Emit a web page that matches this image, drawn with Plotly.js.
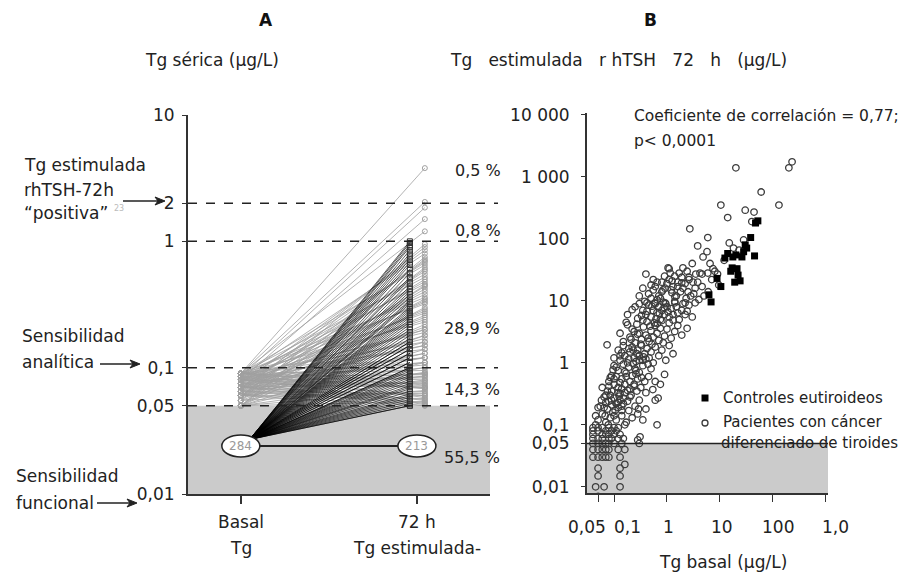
<!DOCTYPE html>
<html><head><meta charset="utf-8">
<script src="https://cdn.plot.ly/plotly-3.0.1.min.js"></script>
<style>html,body{margin:0;padding:0;background:#fff}#chart{width:903px;height:579px}</style>
</head><body><div id="chart"></div>
<script>
// ---------------- Panel A data ----------------
const catLabelsTop = ["Basal", "72 h"];
const catLabelsBottom = ["Tg", "Tg estimulada-"];
const aTickVals = [0.01, 0.05, 0.1, 1, 2, 10];
const aTickText = ["0,01", "0,05", "0,1", "1", "2", "10"];
const thresholds = [2, 1, 0.1, 0.05];
const undetectableLevel = 0.024;   // plotted level of undetectable Tg
const blackOrigin = 0.027;         // start of the lines from undetectable basal Tg
const nUndetBasal = "284", nUndetStim = "213";
const pctLabels = ["0,5 %", "0,8 %", "28,9 %", "14,3 %", "55,5 %"];

// Detectable basal Tg (0.05-0.09) and the stimulated value of the same patient
const greyBasal = [
 0.09,0.09,0.085,0.08,0.09,0.055,0.065,0.075,0.085,0.05,
 0.06,0.07,0.08,0.09,0.05,0.06,0.07,0.08,0.09,0.065,
 0.075,0.085,0.05,0.055,0.06,0.07,0.08,0.09,0.06,0.07,
 0.08,0.09,0.05,0.065,0.075,0.085,0.06,0.07,0.08,0.09,
 0.05,0.06,0.07,0.08,0.085,0.055,0.065,0.075,0.09,0.06,
 0.07,0.08,0.09,0.05,0.06,0.07,0.08,0.09,0.065,0.075,
 0.085,0.05,0.06,0.07,0.08,0.09,0.055,0.065,0.075,0.085,
 0.06,0.07,0.08,0.09,0.05,0.06,0.07,0.08,0.09,0.07,
 0.075,0.08,0.085,0.09,0.05,0.055,0.06,0.065,0.07,0.08,
 0.09,0.06,0.07,0.08,0.05,0.065,0.075,0.085,0.06,0.07];
const greyStim = [
 3.8,2.05,1.85,1.5,1.2,
 0.95,0.9,0.85,0.8,0.75,0.72,0.7,0.68,0.65,0.62,
 0.6,0.58,0.55,0.52,0.5,0.48,0.46,0.45,0.44,0.42,
 0.4,0.38,0.36,0.35,0.34,0.33,0.32,0.3,0.29,0.28,
 0.27,0.26,0.25,0.24,0.23,0.22,0.21,0.2,0.2,0.19,
 0.18,0.18,0.17,0.16,0.16,0.15,0.15,0.14,0.14,0.13,
 0.13,0.12,0.12,0.12,0.11,0.11,0.11,0.1,0.1,0.105,
 0.095,0.092,0.09,0.09,0.088,0.086,0.085,0.083,0.08,0.08,
 0.078,0.076,0.075,0.073,0.072,0.07,0.07,0.069,0.068,0.066,
 0.065,0.063,0.062,0.06,0.06,0.058,0.057,0.056,0.055,0.054,
 0.053,0.052,0.051,0.05,0.05];
// Undetectable basal Tg that became detectable after rhTSH
const blackStim = [
 1.0,0.97,0.93,0.9,0.85,0.8,0.76,0.72,0.68,0.65,
 0.6,0.56,0.52,0.5,0.47,0.44,0.42,0.4,0.38,0.36,
 0.34,0.33,0.32,0.3,0.29,0.28,0.27,0.26,0.25,0.24,
 0.23,0.22,0.21,0.2,0.19,0.18,0.17,0.16,0.16,0.15,
 0.15,0.14,0.14,0.13,0.13,0.12,0.12,0.11,0.11,0.1,0.1,
 0.097,0.094,0.09,0.087,0.084,0.081,0.078,0.075,0.072,0.07,
 0.068,0.065,0.062,0.06,0.058,0.056,0.054,0.052,0.05,0.05];

// ---------------- Panel B data ----------------
const seriesNames = ["Controles eutiroideos", "Pacientes con cáncer", "diferenciado de tiroides"];
const bXTickVals = [0.05, 0.1, 1, 10, 100, 1000];
const bXTickText = ["0,05", "0,1", "1", "10", "100", "1,0"];
const bYTickVals = [0.01, 0.05, 0.1, 1, 10, 100, 1000, 10000];
const bYTickText = ["0,01", "0,05", "0,1", "1", "10", "100", "1 000", "10 000"];

const ctrlX = [52,47,38,32,28,26,45,17.5,12.4,14,20,
               17,21,22,24,19,8.8,10.4,6.2,6.8,30,16];
const ctrlY = [195,180,105,71,62,51,53,51,49,58,55,
               34,33,26,21,20,23,17,12.5,9.6,80,30];

const patX = [
 20,230,200,60,130,10.4,30,44,14,40,
 2.7,5.9,3.8,5.7,4.8,15,23,28,0.4,1.1,
 2.0,3.5,4.6,5.9,7.4,4.6,2.2,3.4,0.92,1.24,
 1.41,0.42,0.59,0.92,1.41,2.2,3.4,8,9,3,
 6.5,2.6,1.6,1.8,2.8,0.7,0.55,5,4,1.1,
 1.4,1.05,1.9,3.1,4.2,0.84,1.3,0.65,2.5,0.5,
 18,12,7,9.5,6,3.8,2.4,1.7,0.8,0.3,
 0.45,0.6,0.75,1.0,1.2,1.5,2.0,2.6,3.2,0.35,
 0.55,0.9,1.15,1.6,2.3,0.8,0.5,1.9,1.25,0.65,
 0.18,0.25,0.3,0.35,0.4,0.45,0.5,0.55,0.6,0.65,
 0.7,0.75,0.8,0.85,0.9,1.0,1.1,1.2,1.3,1.5,
 1.7,1.9,2.2,2.6,3.0,0.28,0.38,0.62,0.95,1.4,
 2.0,0.22,0.42,0.72,1.05,0.52,0.33,0.88,1.6,2.4,
 0.18,0.13,0.15,0.17,0.2,0.22,0.25,0.27,0.3,0.33,
 0.36,0.4,0.42,0.46,0.5,0.55,0.6,0.65,0.7,0.75,
 0.8,0.9,1.0,1.1,1.2,1.4,1.6,1.9,2.4,0.24,
 0.35,0.52,0.58,0.85,0.32,0.48,1.3,0.28,0.44,0.66,
 0.074,0.1,0.12,0.13,0.15,0.16,0.18,0.2,0.22,0.24,
 0.26,0.28,0.3,0.33,0.35,0.38,0.42,0.46,0.5,0.55,
 0.6,0.7,0.8,0.95,1.1,1.3,0.19,0.27,0.14,0.4,
 0.096,0.08,0.09,0.1,0.11,0.12,0.12,0.13,0.14,0.15,
 0.16,0.17,0.18,0.19,0.2,0.21,0.22,0.24,0.25,0.27,
 0.28,0.3,0.32,0.35,0.38,0.4,0.45,0.5,0.54,0.6,
 0.75,0.9,0.14,0.23,0.33,0.1,0.09,0.16,0.68,0.26,
 0.07,0.08,0.09,0.1,0.11,0.12,0.13,0.15,0.17,0.2,
 0.11,0.13,0.16,0.19,0.23,0.26,0.3,0.36,0.44,0.21,
 0.06,0.065,0.075,0.085,0.1,0.12,0.14,0.18,0.24,0.29,
 0.05,0.055,0.06,0.065,0.07,0.075,0.08,0.085,0.09,0.095,
 0.1,0.11,0.12,0.13,0.14,0.15,0.17,0.19,0.2,0.22,
 0.25,0.28,0.3,0.35,0.6,0.65,0.4,0.058,0.068,0.078,
 0.105,0.125,0.16,0.05,0.045,0.045,0.07,0.085,0.11,0.14,
 0.04,0.05,0.06,0.08,0.1,0.12,0.04,0.05,0.07,0.09,
 0.11,0.04,0.06,0.07,0.08,0.1,0.13,0.04,0.05,0.06,
 0.08,0.09,0.12,0.15,0.04,0.05,0.06,0.07,0.08,0.1,
 0.14,0.3,0.04,0.05,0.06,0.07,0.08,0.12,0.16,0.04,
 0.05,0.06,0.07,0.08,0.13,0.05,0.13,0.05,0.13,0.045,
 0.065,0.13,0.05,0.31,0.28,0.16];
const patY = [
 1400,1750,1400,570,350,350,290,270,220,190,
 145,105,77,62,51,86,66,96,27,33,
 34,27,27,28,33,17,19,16,16,13.5,
 11.6,9.3,9.3,9.3,9.3,9.3,9.3,30,27,40,
 40,22,20,14,12,12,15,12,10.5,22,
 25,34,19.5,20,28,15,17,10.4,14,18,
 71,45,22,18,14,20,30,28,20,12,
 13,17,11,19,15,12,16,24,13,16,
 22,25,28,17,11,14,11,24,21,20,
 6,8,9,7,6,8.5,5.5,7,9,6.5,
 8,5,7,9.5,6,8,5.5,7.5,6,8,
 5,7,6,8.5,5.5,5.2,9.8,5.1,9,9.8,
 9,7.2,6.8,6.2,6.6,8.2,5.8,7.8,6.4,6.8,
 4.1,3,2.2,4.5,2.6,3.5,2.1,4.2,3,2.4,
 3.8,2.8,4.6,2.2,3.3,2.6,4,3,2.3,3.6,
 4.8,2.7,3.5,4.4,2.5,3.2,4,2.8,3.6,3.2,
 4.9,2.0,4.4,2.1,2.0,3.9,4.9,2.9,2.5,4.3,
 1.95,1.2,1.6,1.1,1.9,1.3,1.0,1.5,1.8,1.2,
 1.05,1.6,1.3,1.9,1.1,1.4,1.7,1.2,1.5,1.0,
 1.8,1.3,1.6,1.1,1.9,1.4,1.7,1.4,1.45,1.15,
 0.77,0.5,0.35,0.9,0.6,0.4,0.75,0.32,0.55,0.95,
 0.45,0.68,0.36,0.85,0.5,0.3,0.62,0.42,0.8,0.35,
 0.55,0.7,0.4,0.9,0.5,0.33,0.6,0.8,0.37,0.5,
 0.45,0.65,0.38,0.97,0.58,0.45,0.62,0.33,0.27,0.66,
 0.3,0.42,0.25,0.55,0.22,0.33,0.48,0.27,0.6,0.38,
 0.85,1.3,0.72,1.15,1.6,0.75,1.1,1.25,0.95,2.4,
 0.4,0.19,0.35,0.58,0.14,0.23,0.2,0.24,0.45,0.18,
 0.12,0.2,0.15,0.28,0.11,0.18,0.24,0.13,0.21,0.16,
 0.27,0.12,0.19,0.25,0.14,0.22,0.11,0.17,0.28,0.13,
 0.2,0.15,0.25,0.12,0.25,0.1,0.18,0.25,0.14,0.1,
 0.17,0.29,0.1,0.19,0.1,0.14,0.23,0.3,0.22,0.17,
 0.09,0.09,0.09,0.09,0.09,0.09,0.08,0.08,0.08,0.08,
 0.08,0.07,0.07,0.07,0.07,0.07,0.07,0.06,0.06,0.06,
 0.06,0.06,0.06,0.06,0.05,0.05,0.05,0.05,0.05,0.05,
 0.05,0.05,0.04,0.04,0.04,0.04,0.04,0.04,0.04,0.03,
 0.03,0.03,0.03,0.03,0.03,0.02,0.02,0.015,0.015,0.01,
 0.01,0.01,0.007,0.064,0.057,0.023];

// ---------------- build ----------------
const W = 903, H = 579;
const px = x => x / W, py = y => 1 - y / H;
const FONT = 'DejaVu Sans';
const XA_GREY = 1.045, XA_BLACK = 0.96, XA_ORIGIN = 0.05;

const xDomA = [px(188), px(490)], xRangeA = [-0.30, 1.415];
const yDomA = [py(494), py(115)], yRangeA = [-2, 1];
const xDomB = [px(587), px(828)], xRangeB = [-1.51, 3.04];
const yDomB = [py(493), py(113)], yRangeB = [-2.1, 4.03];
const aPX = v => xDomA[0] + (v - xRangeA[0]) / (xRangeA[1] - xRangeA[0]) * (xDomA[1] - xDomA[0]);
const aPY = v => yDomA[0] + (Math.log10(v) - yRangeA[0]) / (yRangeA[1] - yRangeA[0]) * (yDomA[1] - yDomA[0]);

const gLX = [], gLY = [];
greyBasal.forEach((b, i) => { gLX.push(0, XA_GREY, null); gLY.push(b, greyStim[i], null); });
const bLX = [], bLY = [];
blackStim.forEach(s => { bLX.push(XA_ORIGIN, XA_BLACK, null); bLY.push(blackOrigin, s, null); });

const traces = [
  {x: gLX, y: gLY, mode: 'lines', line: {color: '#a0a0a0', width: 0.8}, hoverinfo: 'skip'},
  {x: greyBasal.map(() => 0), y: greyBasal, mode: 'markers', marker: {symbol: 'circle-open', size: 5, color: '#a0a0a0', line: {width: 1}}},
  {x: greyStim.map(() => XA_GREY), y: greyStim, mode: 'markers', marker: {symbol: 'circle-open', size: 5, color: '#a0a0a0', line: {width: 1}}},
  {x: bLX, y: bLY, mode: 'lines', line: {color: '#000', width: 0.65}, hoverinfo: 'skip'},
  {x: blackStim.map(() => XA_BLACK), y: blackStim, mode: 'markers', marker: {symbol: 'square-open', size: 5, color: '#333', line: {width: 1}}},
  {x: [0, 1], y: [undetectableLevel, undetectableLevel], mode: 'lines', line: {color: '#222', width: 2}},
  {x: patX, y: patY, xaxis: 'x2', yaxis: 'y2', mode: 'markers', name: seriesNames[1] + ' ' + seriesNames[2],
   marker: {symbol: 'circle-open', size: 6.5, color: '#3c3c3c', line: {width: 1.3}}},
  {x: ctrlX, y: ctrlY, xaxis: 'x2', yaxis: 'y2', mode: 'markers', name: seriesNames[0],
   marker: {symbol: 'square', size: 7, color: '#000'}}
];

const shapes = [
  {type: 'rect', xref: 'x domain', yref: 'y', x0: 0, x1: 1, y0: 0.01, y1: 0.05, fillcolor: '#cbcbcb', line: {width: 0}, layer: 'below'},
  {type: 'rect', xref: 'x2 domain', yref: 'y2', x0: 0, x1: 1, y0: Math.pow(10, yRangeB[0]), y1: 0.05, fillcolor: '#cbcbcb', line: {width: 0}, layer: 'below'},
  {type: 'line', xref: 'x2 domain', yref: 'y2', x0: 0, x1: 1, y0: 0.05, y1: 0.05, line: {color: '#222', width: 1.5}}
];
thresholds.forEach(t => shapes.push({type: 'line', xref: 'paper', yref: 'y', x0: px(188), x1: px(498), y0: t, y1: t,
  line: {color: '#222', width: 1.5, dash: 'dash'}}));
[0, 1].forEach(cx => {
  const cxp = aPX(cx), cyp = aPY(undetectableLevel);
  shapes.push({type: 'circle', xref: 'paper', yref: 'paper', x0: cxp - 19 / W, x1: cxp + 19 / W, y0: cyp - 11 / H, y1: cyp + 11 / H,
    fillcolor: '#fff', line: {color: '#222', width: 1.5}});
});
// arrows (line + filled head) on the left of panel A
const arrow = (x0, x1, y) => {
  shapes.push({type: 'line', xref: 'paper', yref: 'paper', x0: px(x0), x1: px(x1 - 6), y0: py(y), y1: py(y), line: {color: '#222', width: 1.5}});
  shapes.push({type: 'path', xref: 'paper', yref: 'paper',
    path: `M ${px(x1)} ${py(y)} L ${px(x1 - 10)} ${py(y - 4)} L ${px(x1 - 7)} ${py(y)} L ${px(x1 - 10)} ${py(y + 4)} Z`,
    fillcolor: '#222', line: {color: '#222', width: 1}});
};
arrow(123, 165, 201);
arrow(100, 140, 364);
arrow(97, 137, 503);
// manual legend symbols of panel B
shapes.push({type: 'rect', xref: 'paper', yref: 'paper', x0: px(701.5), x1: px(708.5), y0: py(401.5), y1: py(394.5), fillcolor: '#000', line: {width: 0}});
shapes.push({type: 'circle', xref: 'paper', yref: 'paper', x0: px(702), x1: px(708), y0: py(426), y1: py(420), fillcolor: 'rgba(0,0,0,0)', line: {color: '#3c3c3c', width: 1.3}});

const ann = [];
const txt = (x, y, text, opts = {}) => ann.push(Object.assign({xref: 'paper', yref: 'paper', x: px(x), y: py(y), text, showarrow: false,
  xanchor: 'left', yanchor: 'middle', font: {family: FONT, size: 17, color: '#222'}}, opts));

const S3 = '\u00a0\u00a0\u00a0';
txt(266, 20, '<b>A</b>', {xanchor: 'center', font: {family: FONT, size: 17, color: '#111'}});
txt(212, 60, 'Tg sérica (μg/L)', {xanchor: 'center'});
txt(650, 20, '<b>B</b>', {xanchor: 'center', font: {family: FONT, size: 17, color: '#111'}});
txt(618, 60, 'Tg' + S3 + 'estimulada' + S3 + 'r hTSH' + S3 + '72' + S3 + 'h' + S3 + '(μg/L)', {xanchor: 'center'});
txt(723, 562, 'Tg basal (μg/L)', {xanchor: 'center'});
txt(632, 116, 'Coeficiente de correlación = 0,77;', {font: {family: FONT, size: 15.5, color: '#222'}});
txt(632, 141, 'p< 0,0001', {font: {family: FONT, size: 15.5, color: '#222'}});
txt(721, 398, seriesNames[0], {font: {family: FONT, size: 15, color: '#222'}});
txt(721, 422, seriesNames[1], {font: {family: FONT, size: 15, color: '#222'}});
txt(719, 443, seriesNames[2], {font: {family: FONT, size: 15, color: '#222'}});

txt(22, 165, 'Tg estimulada');
txt(22, 190, 'rhTSH-72h');
txt(22, 213, '“positiva”');
txt(112, 208, '23', {font: {family: FONT, size: 8, color: '#bbb'}});
txt(20, 336, 'Sensibilidad');
txt(20, 362, 'analítica');
txt(14, 476, 'Sensibilidad');
txt(14, 503, 'funcional');

const pctY = [171, 230, 328, 390, 457];
const pctX = [453, 453, 442, 442, 442];
pctLabels.forEach((p, i) => txt(pctX[i], pctY[i], p, {font: {family: FONT, size: 16, color: '#222'}}));

[0, 1].forEach(i => {
  ann.push({xref: 'x', yref: 'paper', x: i, y: py(522), text: catLabelsTop[i], showarrow: false, xanchor: 'center', yanchor: 'middle', font: {family: FONT, size: 17, color: '#222'}});
  ann.push({xref: 'x', yref: 'paper', x: i, y: py(548), text: catLabelsBottom[i], showarrow: false, xanchor: 'center', yanchor: 'middle', font: {family: FONT, size: 17, color: '#222'}});
  ann.push({xref: 'paper', yref: 'paper', x: aPX(i), y: aPY(undetectableLevel), text: i === 0 ? nUndetBasal : nUndetStim,
    showarrow: false, xanchor: 'center', yanchor: 'middle', font: {family: FONT, size: 12, color: '#999'}});
});
// x tick labels of panel B (placed as in the original figure)
const bXLabelShift = [-11, 13, 2, 2, 5, 10];
bXTickVals.forEach((v, i) => ann.push({xref: 'x2', yref: 'paper', x: Math.log10(v), y: py(527), xshift: bXLabelShift[i],
  text: bXTickText[i], showarrow: false, xanchor: 'center', yanchor: 'middle', font: {family: FONT, size: 17, color: '#222'}}));

const axBase = {showgrid: false, zeroline: false, showline: true, linecolor: '#333', linewidth: 2, ticks: 'outside', tickcolor: '#333',
  tickfont: {family: FONT, size: 17, color: '#222'}, automargin: false};

const layout = {
  width: W, height: H, margin: {l: 0, r: 0, t: 0, b: 0},
  paper_bgcolor: '#fff', plot_bgcolor: 'rgba(0,0,0,0)',
  font: {family: FONT, size: 17, color: '#222'},
  showlegend: false,
  xaxis: Object.assign({}, axBase, {domain: xDomA, range: xRangeA, tickvals: [0, 1], showticklabels: false, ticklen: 8, tickwidth: 1.5}),
  yaxis: Object.assign({}, axBase, {domain: yDomA, type: 'log', range: yRangeA, tickvals: aTickVals, ticktext: aTickText, ticklen: 4, ticklabelstandoff: 4}),
  xaxis2: Object.assign({}, axBase, {domain: xDomB, type: 'log', range: xRangeB, anchor: 'y2', tickvals: bXTickVals, showticklabels: false, ticklen: 7}),
  yaxis2: Object.assign({}, axBase, {domain: yDomB, type: 'log', range: yRangeB, anchor: 'x2', tickvals: bYTickVals, ticktext: bYTickText, ticklen: 4, ticklabelstandoff: 8}),
  shapes: shapes,
  annotations: ann
};

Plotly.newPlot('chart', traces, layout, {staticPlot: true, displayModeBar: false});
</script>
</body></html>
